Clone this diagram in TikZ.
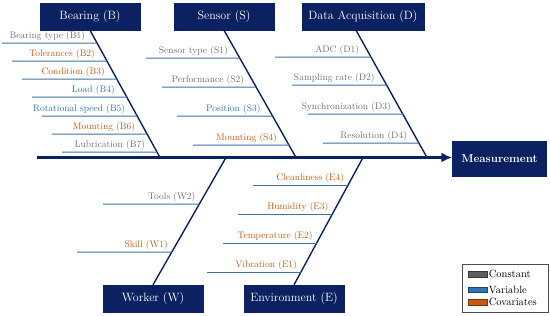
\documentclass[tikz,border=0pt]{standalone}
\usepackage{tikz}
\usetikzlibrary{arrows.meta, positioning}

\definecolor{deepnavy}{HTML}{0C2161}
\definecolor{linkblue}{HTML}{41729F}
\definecolor{constgray}{HTML}{707070}
\definecolor{keygray}{HTML}{5E5E5E}
\definecolor{varblue}{HTML}{2E75B6}
\definecolor{covorange}{HTML}{C55A11}

\begin{document}
\begin{tikzpicture}[
        x=1pt, y=-1pt, >=Latex,
        box/.style={draw=deepnavy, fill=deepnavy, text=white, minimum width=100pt,
                    minimum height=27pt, inner sep=2pt, font=\fontsize{12}{14}\selectfont},
        bone/.style={draw=deepnavy, line width=1.4pt},
        spine/.style={draw=deepnavy, line width=3pt, -{Latex[length=11pt, width=10pt]}},
        branch/.style={draw=linkblue, line width=1pt},
        lbl/.style={anchor=south east, inner sep=1.5pt, font=\fontsize{9.5}{11}\selectfont},
        lblconst/.style={lbl, text=constgray},
        lblvar/.style={lbl, text=varblue},
        lblcov/.style={lbl, text=covorange},
        swatch/.style={draw=#1!60!black, fill=#1, minimum width=19pt, minimum height=5.5pt,
                       inner sep=0pt},
        keytext/.style={inner sep=1pt, font=\fontsize{10.5}{12}\selectfont}
    ]
        \useasboundingbox (0,0) rectangle (550,316);

        \node[box] (bearing) at (90,16.5)   {Bearing (B)};
        \node[box] (sensor)  at (224,16.5)  {Sensor (S)};
        \node[box, minimum width=122pt] (daq) at (363,16.5) {Data Acquisition (D)};
        \node[box] (worker)  at (153,298.5) {Worker (W)};
        \node[box] (env)     at (294,298.5) {Environment (E)};
        \node[box, minimum width=94pt, minimum height=35pt,
              font=\fontsize{11.5}{14}\selectfont\bfseries] (meas) at (499.5,158.5) {Measurement};

        \coordinate (tail) at (37,157.5);
        \coordinate (jb) at (160,157.5);
        \coordinate (js) at (296,157.5);
        \coordinate (jd) at (427,157.5);
        \coordinate (jw) at (226,157.5);
        \coordinate (je) at (363,157.5);

        % spine and bones
        \draw[spine] (tail) -- (tail -| meas.west);
        \draw[bone] (bearing.south) -- (jb);
        \draw[bone] (sensor.south) -- (js);
        \draw[bone] ([xshift=-7pt]daq.south) -- (jd);
        \draw[bone] (worker.north) -- (jw);
        \draw[bone] (env.north) -- (je);

        % bearing
        \draw[branch] (2,43) coordinate (b1e) -- (intersection of bearing.south--jb and 0,43--1,43) coordinate (b1) node[lblconst, xshift=-10pt] (lb1) {Bearing type (B1)};
        \draw[branch] (12,61) coordinate (b2e) -- (intersection of bearing.south--jb and 0,61--1,61) coordinate (b2) node[lblcov, xshift=-10pt] (lb2) {Tolerances (B2)};
        \draw[branch] (22,79) coordinate (b3e) -- (intersection of bearing.south--jb and 0,79--1,79) coordinate (b3) node[lblcov, xshift=-10pt] (lb3) {Condition (B3)};
        \draw[branch] (32,97) coordinate (b4e) -- (intersection of bearing.south--jb and 0,97--1,97) coordinate (b4) node[lblvar, xshift=-10pt] (lb4) {Load (B4)};
        \draw[branch] (42,116) coordinate (b5e) -- (intersection of bearing.south--jb and 0,116--1,116) coordinate (b5) node[lblvar, xshift=-10pt] (lb5) {Rotational speed (B5)};
        \draw[branch] (52,134) coordinate (b6e) -- (intersection of bearing.south--jb and 0,134--1,134) coordinate (b6) node[lblcov, xshift=-10pt] (lb6) {Mounting (B6)};
        \draw[branch] (62,152) coordinate (b7e) -- (intersection of bearing.south--jb and 0,152--1,152) coordinate (b7) node[lblconst, xshift=-10pt] (lb7) {Lubrication (B7)};

        % sensor
        \draw[branch] (146,58) coordinate (s1e) -- (intersection of sensor.south--js and 0,58--1,58) coordinate (s1) node[lblconst, xshift=-10pt] (ls1) {Sensor type (S1)};
        \draw[branch] (162,87) coordinate (s2e) -- (intersection of sensor.south--js and 0,87--1,87) coordinate (s2) node[lblconst, xshift=-10pt] (ls2) {Performance (S2)};
        \draw[branch] (177,116) coordinate (s3e) -- (intersection of sensor.south--js and 0,116--1,116) coordinate (s3) node[lblvar, xshift=-10pt] (ls3) {Position (S3)};
        \draw[branch] (193,145) coordinate (s4e) -- (intersection of sensor.south--js and 0,145--1,145) coordinate (s4) node[lblcov, xshift=-10pt] (ls4) {Mounting (S4)};

        % data acquisition
        \draw[branch] (275,57) coordinate (d1e) -- (intersection of 356,30--jd and 0,57--1,57) coordinate (d1) node[lblconst, xshift=-10pt] (ld1) {ADC (D1)};
        \draw[branch] (292,85) coordinate (d2e) -- (intersection of 356,30--jd and 0,85--1,85) coordinate (d2) node[lblconst, xshift=-10pt] (ld2) {Sampling rate (D2)};
        \draw[branch] (308,114) coordinate (d3e) -- (intersection of 356,30--jd and 0,114--1,114) coordinate (d3) node[lblconst, xshift=-10pt] (ld3) {Synchronization (D3)};
        \draw[branch] (323,143) coordinate (d4e) -- (intersection of 356,30--jd and 0,143--1,143) coordinate (d4) node[lblconst, xshift=-10pt] (ld4) {Resolution (D4)};

        % worker
        \draw[branch] (103,204) coordinate (w2e) -- (intersection of worker.north--jw and 0,204--1,204) coordinate (w2) node[lblconst, xshift=-2pt] (lw2) {Tools (W2)};
        \draw[branch] (77,252) coordinate (w1e) -- (intersection of worker.north--jw and 0,252--1,252) coordinate (w1) node[lblcov, xshift=-2pt] (lw1) {Skill (W1)};

        % environment
        \draw[branch] (253,185) coordinate (e4e) -- (intersection of env.north--je and 0,185--1,185) coordinate (e4) node[lblcov, xshift=-2pt] (le4) {Cleanliness (E4)};
        \draw[branch] (238,214) coordinate (e3e) -- (intersection of env.north--je and 0,214--1,214) coordinate (e3) node[lblcov, xshift=-2pt] (le3) {Humidity (E3)};
        \draw[branch] (223,243) coordinate (e2e) -- (intersection of env.north--je and 0,243--1,243) coordinate (e2) node[lblcov, xshift=-2pt] (le2) {Temperature (E2)};
        \draw[branch] (207,272) coordinate (e1e) -- (intersection of env.north--je and 0,272--1,272) coordinate (e1) node[lblcov, xshift=-2pt] (le1) {Vibration (E1)};

        % legend
        \node[draw=black!70, line width=0.6pt, minimum width=86pt, minimum height=48pt] (legend) at (505,288) {};
        \node[swatch=keygray]   (kconst) at (477.5,274) {};
        \node[swatch=varblue]   (kvar)   at (477.5,289.5) {};
        \node[swatch=covorange] (kcov)   at (477.5,302) {};
        \node[keytext, right=0.5pt of kconst] (tconst) {Constant};
        \node[keytext, right=0.5pt of kvar]   (tvar)   {Variable};
        \node[keytext, right=0.5pt of kcov]   (tcov)   {Covariates};
    \end{tikzpicture}
\end{document}
